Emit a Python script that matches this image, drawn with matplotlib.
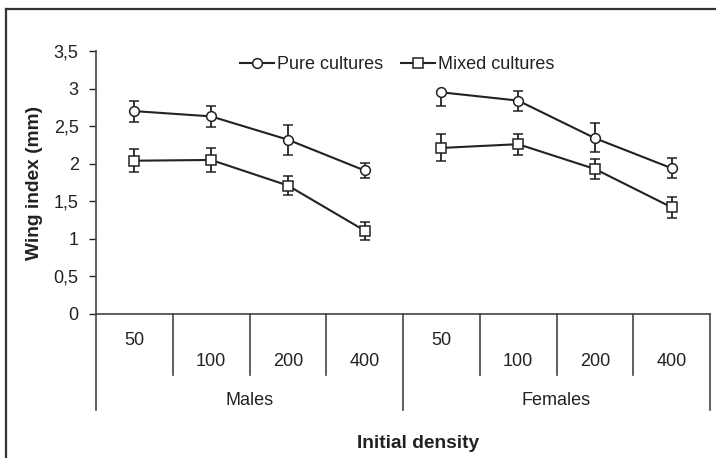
import numpy as np
import matplotlib
matplotlib.use('Agg')
import matplotlib.pyplot as plt
from matplotlib.lines import Line2D

plt.rcParams['font.family'] = ['Liberation Sans', 'DejaVu Sans']

# Data
densities = ['50', '100', '200', '400']
groups = ['Males', 'Females']

males_pure = [2.70, 2.63, 2.32, 1.91]
males_pure_err = [0.14, 0.14, 0.20, 0.10]
males_mixed = [2.04, 2.05, 1.71, 1.11]
males_mixed_err = [0.15, 0.16, 0.13, 0.12]

females_pure = [2.95, 2.84, 2.34, 1.94]
females_pure_err_low = [0.18, 0.14, 0.18, 0.13]
females_pure_err_high = [0.0, 0.13, 0.20, 0.13]
females_mixed = [2.21, 2.26, 1.93, 1.42]
females_mixed_err = [0.18, 0.14, 0.13, 0.14]

ink = '#222222'
fs = 13

fig = plt.figure(figsize=(7.16, 4.58), dpi=100)
ax = fig.add_axes([96 / 716, 1 - 314 / 458, 614 / 716, 263 / 458])

n = len(densities)
x_m = np.arange(n) + 0.5
x_f = np.arange(n) + n + 0.5

line_kw = dict(color=ink, lw=1.5, capsize=3.5, capthick=1.5, elinewidth=1.3,
               ms=7, mfc='white', mec=ink, mew=1.1)
ax.errorbar(x_m, males_pure, yerr=males_pure_err, marker='o', **line_kw)
ax.errorbar(x_m, males_mixed, yerr=males_mixed_err, marker='s', **line_kw)
ax.errorbar(x_f, females_pure, yerr=[females_pure_err_low, females_pure_err_high],
            marker='o', **line_kw)
ax.errorbar(x_f, females_mixed, yerr=females_mixed_err, marker='s', **line_kw)

ax.set_xlim(0, 2 * n)
ax.set_ylim(0, 3.5)
yt = np.arange(0, 3.51, 0.5)
ax.set_yticks(yt)
ax.set_yticklabels([('%g' % v).replace('.', ',') for v in yt])
ax.tick_params(axis='y', length=5, width=1, pad=7.5, labelsize=fs, colors=ink)
ax.set_xticks([])
for s in ['top', 'right']:
    ax.spines[s].set_visible(False)
for s in ['left', 'bottom']:
    ax.spines[s].set_color('#444444')
    ax.spines[s].set_linewidth(1.2)

# Two-level category axis
trans = ax.get_xaxis_transform()
for i in range(2 * n + 1):
    y_end = -0.365 if i % n == 0 else -0.232
    ax.plot([i, i], [0, y_end], transform=trans, color='#444444', lw=1.2, clip_on=False)
for g in range(2):
    for j, d in enumerate(densities):
        yy = -0.10 if j == 0 else -0.18
        ax.text(g * n + j + 0.5, yy, d, transform=trans, ha='center', va='center',
                fontsize=fs, color=ink)
    ax.text(g * n + n / 2, -0.327, groups[g], transform=trans, ha='center', va='center',
            fontsize=fs, color=ink)

ax.set_ylabel('Wing index (mm)', fontsize=13.8, fontweight='bold', color=ink, labelpad=8)
fig.text(418 / 716, 1 - 443 / 458, 'Initial density', ha='center', va='center',
         fontsize=13.8, fontweight='bold', color=ink)

handles = [
    Line2D([], [], color=ink, lw=1.5, marker='o', ms=7, mfc='white', mec=ink, mew=1.1),
    Line2D([], [], color=ink, lw=1.5, marker='s', ms=7, mfc='white', mec=ink, mew=1.1),
]
ax.legend(handles, ['Pure cultures', 'Mixed cultures'], loc='center',
          bbox_to_anchor=(0.49, 0.947), ncol=2, frameon=False, fontsize=fs,
          handlelength=1.9, handletextpad=0.15, columnspacing=1.0, labelcolor=ink)

# Outer frame (left and top edges only)
fig.add_artist(Line2D([6 / 716, 6 / 716], [0, 1 - 9 / 458], color='#333333', lw=1.6))
fig.add_artist(Line2D([6 / 716, 1], [1 - 9 / 458, 1 - 9 / 458], color='#333333', lw=1.6))

fig.savefig('out.png', dpi=100)
